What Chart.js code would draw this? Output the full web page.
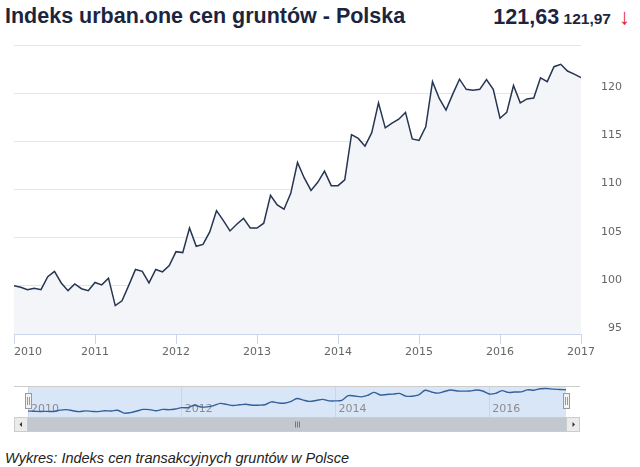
<!DOCTYPE html>
<html>
<head>
<meta charset="utf-8">
<script src="https://cdn.jsdelivr.net/npm/chart.js@4.4.1/dist/chart.umd.min.js"></script>
<style>
  body { margin: 0; width: 640px; height: 467px; position: relative; overflow: hidden; background: #fff;
         font-family: "Liberation Sans", Arial, sans-serif; }
  #title { position: absolute; left: 5px; top: 4px; font-size: 21.5px; font-weight: bold; color: #1b2540; white-space: nowrap; }
  #last { position: absolute; right: 10px; top: 4px; font-weight: bold; color: #1b2540; white-space: nowrap; }
  #last .cur { font-size: 21.5px; }
  #last .prev { font-size: 15.5px; }
  #last .arrow { color: #e3231f; font-weight: normal; font-size: 22px; margin-left: 8px; }
  #main { position: absolute; left: 0; top: 0; }
  #nav { position: absolute; left: 0; top: 386px; }
  #caption { position: absolute; left: 5px; top: 450px; font-size: 14.5px; font-style: italic; color: #222; white-space: nowrap; }
</style>
</head>
<body>
<div id="title">Indeks urban.one cen gruntów - Polska</div>
<div id="last"><span class="cur">121,63</span> <span class="prev">121,97</span><span class="arrow">↓</span></div>
<canvas id="main" width="640" height="362"></canvas>
<canvas id="nav" width="640" height="46"></canvas>
<div id="caption">Wykres: Indeks cen transakcyjnych gruntów w Polsce</div>
<script>
// miesięczne wartości indeksu, od stycznia 2010
const startYear = 2010;
const values2010 = [100.0, 99.85, 99.6, 99.75, 99.6, 100.95, 101.5, 100.3, 99.5, 100.2, 99.7, 99.5];
const values2011 = [100.35, 100.1, 100.8, 97.95, 98.45, 100.05, 101.7, 101.5, 100.3, 101.7, 101.45, 102.1];
const values2012 = [103.55, 103.45, 106.0, 104.1, 104.3, 105.6, 107.8, 106.8, 105.7, 106.4, 107.0, 106.0];
const values2013 = [106.0, 106.5, 109.4, 108.4, 107.95, 109.6, 112.8, 111.2, 109.9, 110.75, 111.9, 110.4];
const values2014 = [110.4, 111.0, 115.7, 115.3, 114.5, 115.9, 119.0, 116.4, 116.9, 117.3, 118.0, 115.25];
const values2015 = [115.1, 116.5, 121.2, 119.45, 118.25, 119.9, 121.45, 120.4, 120.3, 120.4, 121.4, 120.4];
const values2016 = [117.4, 118.0, 120.8, 119.0, 119.4, 119.5, 121.6, 121.2, 122.75, 123.0, 122.3, 121.97];
const values2017 = [121.63];

const indexValues = [].concat(values2010, values2011, values2012, values2013,
                              values2014, values2015, values2016, values2017);
const points = indexValues.map((v, i) => ({ x: startYear + i / 12, y: v }));

const axisFont = { family: 'DejaVu Sans', size: 11 };
const lineColor = '#263552';

new Chart(document.getElementById('main'), {
  type: 'line',
  data: {
    datasets: [{
      data: points,
      borderColor: lineColor,
      borderWidth: 1.5,
      backgroundColor: '#f4f5f8',
      fill: 'start',
      pointRadius: 0,
      tension: 0
    }]
  },
  options: {
    responsive: false,
    animation: false,
    layout: { padding: { left: 14, right: 18, top: 45, bottom: 0 } },
    plugins: { legend: { display: false }, tooltip: { enabled: false } },
    scales: {
      x: {
        type: 'linear',
        min: 2010,
        max: 2017,
        ticks: {
          stepSize: 1,
          autoSkip: false,
          maxRotation: 0,
          padding: 2,
          color: '#666',
          font: axisFont,
          // pierwsza etykieta wyrównana do lewej jak w oryginale
          callback: v => v === 2010 ? '\u2007\u2007\u2007\u2007' + v : String(v)
        },
        grid: { drawOnChartArea: false, tickLength: 10, tickColor: '#ccd6eb' },
        border: { color: '#ccd6eb' },
        afterFit: s => { s.height = 28; s.paddingLeft = 0; s.paddingRight = 0; }
      },
      y: {
        position: 'right',
        min: 95,
        max: 125,
        ticks: {
          stepSize: 5,
          color: '#666',
          font: axisFont,
          crossAlign: 'far',
          labelOffset: -6,
          callback: v => v === 125 ? '' : String(v)
        },
        grid: { color: '#e6e6e6', drawTicks: false },
        border: { display: false },
        afterFit: s => { s.width = 41; }
      }
    }
  }
});

const navPlugin = {
  id: 'navigatorParts',
  beforeDraw(chart) {
    const { ctx, chartArea: a } = chart;
    ctx.save();
    ctx.fillStyle = '#d9e6f7';
    ctx.fillRect(a.left, a.top, a.right - a.left, a.bottom - a.top);
    ctx.strokeStyle = '#cccccc';
    ctx.lineWidth = 1;
    ctx.beginPath();
    ctx.moveTo(14, 0.5);
    ctx.lineTo(580, 0.5);
    ctx.stroke();
    ctx.restore();
  },
  beforeDatasetsDraw(chart) {
    // etykiety lat wewnątrz nawigatora, z pozycji skali x
    const { ctx, chartArea: a, scales } = chart;
    ctx.save();
    ctx.fillStyle = '#8c8c8c';
    ctx.font = '11px "DejaVu Sans"';
    ctx.textAlign = 'left';
    ctx.textBaseline = 'middle';
    for (const t of scales.x.ticks) {
      ctx.fillText(String(t.value), scales.x.getPixelForValue(t.value) + 3, a.bottom - 8);
    }
    ctx.restore();
  },
  afterDraw(chart) {
    const { ctx, chartArea: a } = chart;
    const top = a.bottom, h = 15;
    ctx.save();
    // pasek przewijania
    ctx.fillStyle = '#f2f2f2';
    ctx.fillRect(14, top, 566, h);
    ctx.fillStyle = '#c3c8cf';
    ctx.fillRect(a.left, top, a.right - a.left, h);
    ctx.strokeStyle = '#cccccc';
    ctx.strokeRect(14.5, top + 0.5, 565, h - 1);
    // przyciski
    ctx.fillStyle = '#ebebeb';
    ctx.fillRect(14.5, top + 0.5, 13, h - 1);
    ctx.fillRect(a.right + 0.5, top + 0.5, 13, h - 1);
    ctx.strokeRect(14.5, top + 0.5, 13, h - 1);
    ctx.strokeRect(a.right + 0.5, top + 0.5, 13, h - 1);
    ctx.fillStyle = '#333';
    const cy = top + h / 2;
    ctx.beginPath();
    ctx.moveTo(19.5, cy); ctx.lineTo(22, cy - 2.5); ctx.lineTo(22, cy + 2.5); ctx.closePath(); ctx.fill();
    ctx.beginPath();
    ctx.moveTo(a.right + 9, cy); ctx.lineTo(a.right + 6.5, cy - 2.5); ctx.lineTo(a.right + 6.5, cy + 2.5); ctx.closePath(); ctx.fill();
    // uchwyt suwaka
    const mid = Math.round((a.left + a.right) / 2);
    ctx.strokeStyle = '#777';
    ctx.beginPath();
    for (const dx of [-2, 0, 2]) { ctx.moveTo(mid + dx + 0.5, cy - 3); ctx.lineTo(mid + dx + 0.5, cy + 3); }
    ctx.stroke();
    // uchwyty zakresu
    for (const hx of [a.left - 3, a.right - 3]) {
      ctx.fillStyle = '#f2f2f2';
      ctx.strokeStyle = '#999';
      ctx.fillRect(hx + 0.5, 7.5, 6, 15);
      ctx.strokeRect(hx + 0.5, 7.5, 6, 15);
      ctx.beginPath();
      ctx.moveTo(hx + 2.5, 11); ctx.lineTo(hx + 2.5, 19);
      ctx.moveTo(hx + 4.5, 11); ctx.lineTo(hx + 4.5, 19);
      ctx.stroke();
    }
    ctx.restore();
  }
};

new Chart(document.getElementById('nav'), {
  type: 'line',
  data: {
    datasets: [{
      data: points,
      borderColor: '#34609a',
      borderWidth: 1.4,
      pointRadius: 0,
      fill: false,
      tension: 0.3
    }]
  },
  options: {
    responsive: false,
    animation: false,
    layout: { padding: { left: 28, right: 74, top: 1, bottom: 15 } },
    plugins: { legend: { display: false }, tooltip: { enabled: false } },
    scales: {
      x: {
        type: 'linear',
        min: 2010,
        max: 2017,
        afterBuildTicks: s => { s.ticks = s.ticks.filter(t => t.value % 2 === 0); },
        ticks: { stepSize: 1, autoSkip: false, display: false },
        grid: { color: '#c6d6ec', drawTicks: false },
        border: { display: false },
        afterFit: s => { s.height = 0; s.paddingLeft = 0; s.paddingRight = 0; }
      },
      y: { display: false, min: 94, max: 124.5 }
    }
  },
  plugins: [navPlugin]
});
</script>
</body>
</html>
